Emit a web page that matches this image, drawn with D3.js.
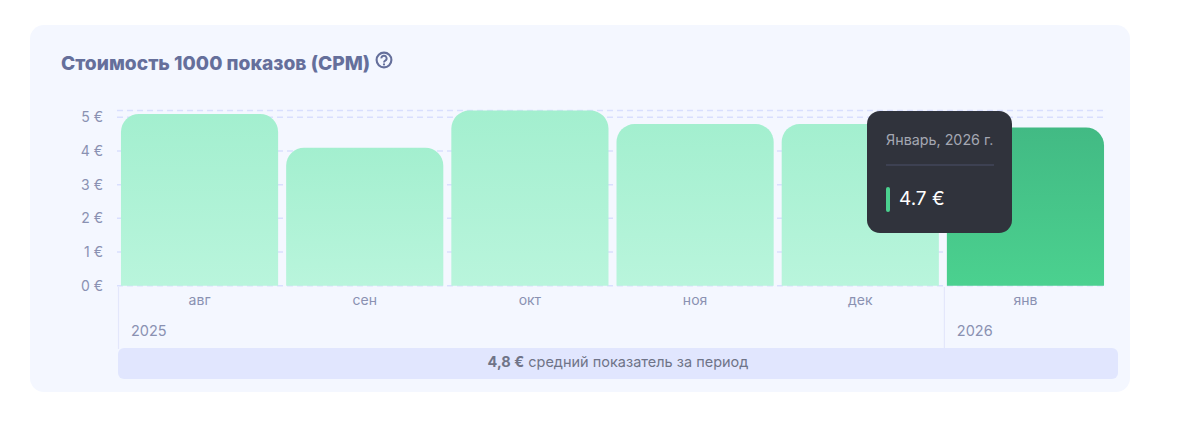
<!DOCTYPE html>
<html>
<head>
<meta charset="utf-8">
<script src="https://cdn.jsdelivr.net/npm/d3@7"></script>
<style>
  html, body { margin: 0; padding: 0; background: #fff; overflow: hidden; }
  text { font-family: Inter, "Noto Sans", sans-serif; }
</style>
</head>
<body>
<svg id="chart" width="1182" height="429"></svg>
<script>
var months = ['авг', 'сен', 'окт', 'ноя', 'дек', 'янв'];
var cpm = [5.1, 4.1, 5.2, 4.8, 4.8, 4.7];
var yTicks = [0, 1, 2, 3, 4, 5];
var years = [
  { label: '2025', first: 'авг' },
  { label: '2026', first: 'янв' }
];
var activeMonth = 'янв';
var titleText = 'Стоимость 1000 показов (CPM)';
var tooltipTitle = 'Январь, 2026 г.';
var tooltipValue = '4.7 €';

var svg = d3.select('#chart');

var defs = svg.append('defs');
function addGradient(id, top, bottom) {
  var g = defs.append('linearGradient').attr('id', id)
    .attr('x1', 0).attr('y1', 0).attr('x2', 0).attr('y2', 1);
  g.append('stop').attr('offset', '0%').attr('stop-color', top);
  g.append('stop').attr('offset', '100%').attr('stop-color', bottom);
}
addGradient('barLight', '#a3efcf', '#b9f5dc');
addGradient('barActive', '#42ba84', '#4bd18f');

// card
svg.append('rect')
  .attr('x', 30).attr('y', 25)
  .attr('width', 1100).attr('height', 367)
  .attr('rx', 14)
  .attr('fill', '#f4f7ff');

svg.append('text')
  .attr('x', 61).attr('y', 69.5)
  .attr('font-size', 19.2).attr('font-weight', 800)
  .attr('fill', '#656f9b')
  .text(titleText);

// help icon
var help = svg.append('g').attr('transform', 'translate(384,60)');
help.append('circle').attr('r', 7.4)
  .attr('fill', 'none').attr('stroke', '#656f9b').attr('stroke-width', 2.1);
help.append('path')
  .attr('d', 'M-2.6,-1.6 A2.6,2.6 0 1 1 1.2,0.6 C0.3,1.1 0,1.5 0,2.4')
  .attr('fill', 'none').attr('stroke', '#656f9b').attr('stroke-width', 1.9);
help.append('circle').attr('cy', 4.4).attr('r', 1.1).attr('fill', '#656f9b');

var x = d3.scaleBand().domain(months).range([117, 1108]).paddingInner(0.0485).paddingOuter(0.024);
var y = d3.scaleLinear().domain([0, 5.2]).range([285.7, 110.6]);

// grid
svg.append('g').selectAll('line')
  .data(yTicks.concat([5.2]))
  .join('line')
  .attr('x1', 117).attr('x2', 1107)
  .attr('y1', function(d) { return y(d); })
  .attr('y2', function(d) { return y(d); })
  .attr('stroke', '#d9dffe').attr('stroke-width', 1.5)
  .attr('stroke-dasharray', '6 4');

// y labels
svg.append('g').selectAll('text')
  .data(yTicks)
  .join('text')
  .attr('x', 103)
  .attr('y', function(d) { return y(d) + 5; })
  .attr('text-anchor', 'end')
  .attr('font-size', 14)
  .attr('fill', '#8a91b2')
  .text(function(d) { return d + ' €'; });

// bars, rounded on top only
function barPath(m, v) {
  var x0 = x(m), x1 = x0 + x.bandwidth(), top = y(v), base = y(0), r = 18;
  var p = d3.path();
  p.moveTo(x0, base);
  p.lineTo(x0, top + r);
  p.arcTo(x0, top, x0 + r, top, r);
  p.lineTo(x1 - r, top);
  p.arcTo(x1, top, x1, top + r, r);
  p.lineTo(x1, base);
  p.closePath();
  return p.toString();
}

svg.append('g').selectAll('path')
  .data(months)
  .join('path')
  .attr('d', function(m, i) { return barPath(m, cpm[i]); })
  .attr('fill', function(m) { return m === activeMonth ? 'url(#barActive)' : 'url(#barLight)'; });

// month labels
svg.append('g').selectAll('text')
  .data(months)
  .join('text')
  .attr('x', function(m) { return x(m) + x.bandwidth() / 2; })
  .attr('y', 305)
  .attr('text-anchor', 'middle')
  .attr('font-size', 14)
  .attr('fill', '#8a91b2')
  .text(function(m) { return m; });

// year separators + labels
var yearX = function(d) { return d.first === months[0] ? 118.5 : x(d.first) - 2.5; };

svg.append('g').selectAll('line')
  .data(years)
  .join('line')
  .attr('x1', yearX).attr('x2', yearX)
  .attr('y1', 287).attr('y2', 349)
  .attr('stroke', '#e3e7fb').attr('stroke-width', 1.2);

svg.append('g').selectAll('text')
  .data(years)
  .join('text')
  .attr('x', function(d) { return yearX(d) + 12.5; })
  .attr('y', 336)
  .attr('font-size', 14.5)
  .attr('fill', '#8a91b2')
  .text(function(d) { return d.label; });

// average strip
svg.append('rect')
  .attr('x', 118).attr('y', 348)
  .attr('width', 1000).attr('height', 31)
  .attr('rx', 6)
  .attr('fill', '#e1e6fe');

var avg = svg.append('text')
  .attr('x', 618).attr('y', 367)
  .attr('text-anchor', 'middle')
  .attr('font-size', 14.5)
  .attr('fill', '#6f7488');
avg.append('tspan').attr('font-weight', 700).text('4,8 €');
avg.append('tspan').text(' средний показатель за период');

// tooltip
var tip = svg.append('g').attr('transform', 'translate(867,111)');
tip.append('rect')
  .attr('width', 145).attr('height', 122)
  .attr('rx', 13)
  .attr('fill', '#30333c');
tip.append('text')
  .attr('x', 19).attr('y', 34)
  .attr('font-family', 'Lato, sans-serif')
  .attr('font-size', 14.3)
  .attr('fill', '#a4a7b2')
  .text(tooltipTitle);
tip.append('line')
  .attr('x1', 19).attr('x2', 127)
  .attr('y1', 54).attr('y2', 54)
  .attr('stroke', '#4a5068');
tip.append('rect')
  .attr('x', 19).attr('y', 76)
  .attr('width', 4).attr('height', 25)
  .attr('rx', 2)
  .attr('fill', '#4bd18f');
tip.append('text')
  .attr('x', 32).attr('y', 94)
  .attr('font-family', 'Lato, sans-serif')
  .attr('font-size', 19)
  .attr('fill', '#ffffff')
  .text(tooltipValue);
</script>
</body>
</html>
